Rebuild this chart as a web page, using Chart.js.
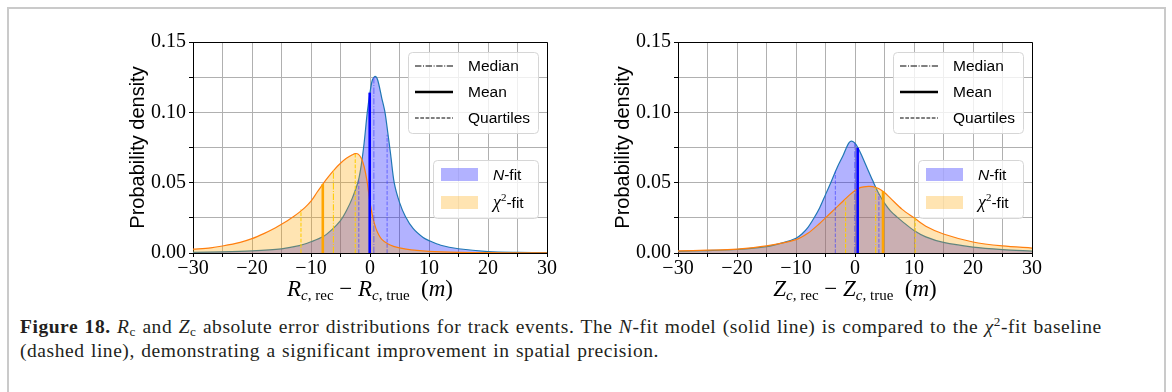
<!DOCTYPE html>
<html>
<head>
<meta charset="utf-8">
<script src="https://cdn.jsdelivr.net/npm/chart.js@4.4.0/dist/chart.umd.min.js"></script>
<style>
  html, body { margin: 0; padding: 0; background: #fff; }
  body { width: 1172px; height: 392px; position: relative; overflow: hidden; }
  #frame { position: absolute; left: 7px; top: 7px; width: 1159px; height: 420px; border: 2px solid #cacaca; box-sizing: border-box; }
  .plot { position: absolute; top: 20px; width: 470px; height: 290px; }
  #caption { position: absolute; left: 20px; top: 315px; white-space: nowrap; font-family: "Liberation Serif", serif; font-size: 19.5px; letter-spacing: 0.55px; word-spacing: 1px; line-height: 24px; color: #231f20; }
  #caption sub, #caption sup { font-size: 0.68em; line-height: 0; }
  #caption sub { vertical-align: -0.2em; }
  #caption sup { vertical-align: 0.5em; }
</style>
</head>
<body>
<div id="frame"></div>
<canvas id="chartR" class="plot" width="470" height="290" style="left:100px"></canvas>
<canvas id="chartZ" class="plot" width="470" height="290" style="left:585px"></canvas>
<div id="caption"><b>Figure 18.</b> <i>R</i><sub>c</sub> and <i>Z</i><sub>c</sub> absolute error distributions for track events. The <i>N</i>-fit model (solid line) is compared to the <i>χ</i><sup>2</sup>-fit baseline<br>(dashed line), demonstrating a significant improvement in spatial precision.</div>
<script>
// axis ranges and labelled ticks
const xRange = [-30, 30];
const yRange = [0, 0.15];
const xLabelTicks = [-30, -20, -10, 0, 10, 20, 30];
const yLabelTicks = [0, 0.05, 0.1, 0.15];

// R_c panel - N-fit density
const rNfitX = [-30, -25, -20, -15, -12, -10, -8, -6.5, -5, -4, -3, -2, -1.5, -1, -0.46, 0, 0.4, 0.85, 1.3, 2, 2.54, 3, 3.5, 4.1, 5, 6, 7.3, 9, 10, 12, 15, 20, 25, 30];
const rNfitY = [0.0005, 0.0008, 0.0015, 0.003, 0.0052, 0.008, 0.0115, 0.0164, 0.023, 0.03, 0.039, 0.051, 0.062, 0.078, 0.1, 0.114, 0.123, 0.1255, 0.123, 0.11, 0.1, 0.086, 0.07, 0.05, 0.036, 0.026, 0.0175, 0.011, 0.0088, 0.0055, 0.003, 0.001, 0.0004, 0.0002];
// R_c panel - chi2-fit density
const rChiX = [-30, -27, -25, -22, -20, -18, -16, -15, -14, -13, -12, -11, -10, -9, -8, -7, -6, -5, -4, -3, -2.5, -2, -1.5, -1, -0.5, 0, 0.5, 1, 1.5, 2, 3, 4, 5, 7, 10, 15, 20, 25, 30];
const rChiY = [0.0027, 0.0037, 0.0050, 0.0076, 0.0102, 0.0138, 0.0180, 0.0204, 0.0230, 0.0258, 0.0289, 0.0324, 0.0368, 0.043, 0.049, 0.0545, 0.0595, 0.0638, 0.0673, 0.0698, 0.0707, 0.0703, 0.0675, 0.0615, 0.051, 0.036, 0.025, 0.0175, 0.0128, 0.0097, 0.0065, 0.0047, 0.0036, 0.0022, 0.0012, 0.0005, 0.0002, 0.0001, 0.0001];
// marker lines, order: lower quartile, median, mean, upper quartile
const rNfitMarkX = [-1.9, 0.65, -0.05, 2.9];
const rNfitMarkTop = [0.052, 0.125, 0.114, 0.084];
const rChiMarkX = [-11.7, -6.2, -8.0, -2.5];
const rChiMarkTop = [0.031, 0.059, 0.049, 0.0705];

// Z_c panel - N-fit density
const zNfitX = [-30, -25, -20, -15, -12, -10, -9, -8, -7, -6, -5, -4, -3, -2, -1.5, -1, -0.56, 0, 0.5, 1, 2, 3, 4, 5, 6, 7, 8, 10, 12, 15, 20, 25, 30];
const zNfitY = [0.0012, 0.0017, 0.0025, 0.0045, 0.0075, 0.0105, 0.0135, 0.018, 0.0245, 0.032, 0.0415, 0.051, 0.061, 0.0695, 0.0745, 0.0785, 0.0795, 0.078, 0.0748, 0.0705, 0.061, 0.0515, 0.0425, 0.0355, 0.03, 0.026, 0.0225, 0.016, 0.0115, 0.0075, 0.0042, 0.0024, 0.0013];
// Z_c panel - chi2-fit density
const zChiX = [-30, -25, -20, -15, -10, -8, -6, -5, -4, -3, -2, -1, 0, 1, 2.26, 3, 4, 5, 6, 8, 10, 12, 15, 20, 25, 30];
const zChiY = [0.0015, 0.002, 0.0028, 0.005, 0.0095, 0.014, 0.021, 0.025, 0.029, 0.033, 0.037, 0.041, 0.0445, 0.0467, 0.0474, 0.0472, 0.0458, 0.043, 0.039, 0.031, 0.025, 0.019, 0.0135, 0.0078, 0.005, 0.0035];
const zNfitMarkX = [-3.33, -0.05, 0.45, 4.05];
const zNfitMarkTop = [0.058, 0.078, 0.0748, 0.042];
const zChiMarkX = [-1.6, 3.5, 4.75, 10.2];
const zChiMarkTop = [0.038, 0.0465, 0.044, 0.025];

const SERIF = '"Liberation Serif", "DejaVu Serif", serif';
const SANS = '"Liberation Sans", Arial, sans-serif';
const DASHED = [3.7, 1.6];
const DASHDOT = [6.4, 1.6, 1, 1.6];

function toPts(xs, ys) {
    return xs.map((x, i) => ({ x: x, y: ys[i] }));
}

// vertical lines for quartiles / median / mean
function markLines(xs, tops, thin, thick) {
    return xs.map((x, i) => ({
        data: [{ x: x, y: 0 }, { x: x, y: tops[i] }],
        borderColor: i === 2 ? thick : thin,
        borderWidth: i === 2 ? 2.6 : 1.1,
        borderDash: i === 1 ? DASHDOT : (i === 2 ? [] : DASHED),
        tension: 0,
        fill: false,
        order: 0
    }));
}

function mathLabel(ctx, parts, cx, base) {
    let w = 0;
    parts.forEach(p => { ctx.font = p.f; p.w = ctx.measureText(p.t).width; w += p.w; });
    let x = cx - w / 2;
    ctx.textAlign = 'left';
    ctx.textBaseline = 'alphabetic';
    parts.forEach(p => { ctx.font = p.f; ctx.fillText(p.t, x, base + (p.dy || 0)); x += p.w; });
}

function mathLabelLeft(ctx, parts, x, base) {
    ctx.textAlign = 'left';
    ctx.textBaseline = 'alphabetic';
    parts.forEach(p => { ctx.font = p.f; ctx.fillText(p.t, x, base + (p.dy || 0)); x += ctx.measureText(p.t).width; });
}

function roundRect(ctx, x, y, w, h, r) {
    ctx.beginPath();
    ctx.moveTo(x + r, y);
    ctx.arcTo(x + w, y, x + w, y + h, r);
    ctx.arcTo(x + w, y + h, x, y + h, r);
    ctx.arcTo(x, y + h, x, y, r);
    ctx.arcTo(x, y, x + w, y, r);
    ctx.closePath();
    ctx.fillStyle = 'rgba(255,255,255,0.8)';
    ctx.fill();
    ctx.strokeStyle = '#d6d6d6';
    ctx.lineWidth = 1;
    ctx.stroke();
}

// frame, axis titles and the two legends
const decor = {
    id: 'decor',
    afterDraw(chart, args, opts) {
        const ctx = chart.ctx, ca = chart.chartArea;
        ctx.save();
        ctx.strokeStyle = '#000';
        ctx.lineWidth = 1;
        ctx.beginPath();
        ctx.moveTo(Math.round(ca.left), Math.round(ca.top) + 0.5);
        ctx.lineTo(Math.round(ca.right) + 0.5, Math.round(ca.top) + 0.5);
        ctx.lineTo(Math.round(ca.right) + 0.5, Math.round(ca.bottom));
        ctx.stroke();

        // y title
        ctx.fillStyle = '#000';
        ctx.save();
        ctx.translate(38, (ca.top + ca.bottom) / 2);
        ctx.rotate(-Math.PI / 2);
        ctx.font = '20px ' + SANS;
        ctx.textAlign = 'center';
        ctx.textBaseline = 'middle';
        ctx.fillText('Probability density', 0, 0);
        ctx.restore();

        // x title
        const v = opts.sym;
        const bigI = 'italic 23px ' + SERIF, up = '23px ' + SERIF;
        const subI = 'italic 15px ' + SERIF, sub = '15px ' + SERIF;
        mathLabel(ctx, [
            { t: v, f: bigI }, { t: 'c', f: subI, dy: 4 }, { t: ', rec', f: sub, dy: 4 },
            { t: ' \u2212 ', f: up },
            { t: v, f: bigI }, { t: 'c', f: subI, dy: 4 }, { t: ', true', f: sub, dy: 4 },
            { t: '  (', f: up }, { t: 'm', f: bigI }, { t: ')', f: up }
        ], (ca.left + ca.right) / 2, ca.bottom + 43);

        // statistics legend
        const L = ca.left, T = ca.top;
        roundRect(ctx, L + 215.5, T + 10.5, 130, 81, 4);
        const rows = [['Median', DASHDOT, 1.1], ['Mean', [], 2.6], ['Quartiles', DASHED, 1.1]];
        rows.forEach((r, i) => {
            const y = T + 24 + i * 26;
            ctx.strokeStyle = '#000';
            ctx.lineWidth = r[2];
            ctx.setLineDash(r[1]);
            ctx.beginPath();
            ctx.moveTo(L + 222, y);
            ctx.lineTo(L + 260, y);
            ctx.stroke();
            ctx.setLineDash([]);
            ctx.font = '15.5px ' + SANS;
            ctx.textAlign = 'left';
            ctx.textBaseline = 'middle';
            ctx.fillStyle = '#000';
            ctx.fillText(r[0], L + 275, y + 1);
        });

        // model legend
        roundRect(ctx, L + 240.5, T + 118.5, 105, 58, 4);
        ctx.fillStyle = 'rgba(0,0,255,0.3)';
        ctx.fillRect(L + 248, T + 126, 37, 13);
        ctx.fillStyle = 'rgba(255,165,0,0.3)';
        ctx.fillRect(L + 248, T + 154, 37, 13);
        ctx.fillStyle = '#000';
        mathLabelLeft(ctx, [{ t: 'N', f: 'italic 15.5px ' + SANS }, { t: '-fit', f: '15.5px ' + SANS }], L + 300, T + 138);
        mathLabelLeft(ctx, [{ t: '\u03c7', f: 'italic 18px ' + SERIF }, { t: '2', f: '11px ' + SERIF, dy: -7 }, { t: '-fit', f: '15.5px ' + SANS }], L + 300, T + 166);
        ctx.restore();
    }
};

function fmtX(v) {
    return v < 0 ? '\u2212' + Math.abs(v) : String(v);
}

function makeChart(id, sym, nX, nY, cX, cY, nMX, nMT, cMX, cMT) {
    const datasets = [
        { data: toPts(cX, cY), borderColor: '#ff7f0e', borderWidth: 1.2, backgroundColor: 'rgba(255,165,0,0.3)', fill: 'origin', order: 1 },
        { data: toPts(nX, nY), borderColor: '#1f77b4', borderWidth: 1.2, backgroundColor: 'rgba(0,0,255,0.3)', fill: 'origin', order: 2 }
    ].concat(
        markLines(nMX, nMT, 'rgba(60,60,255,0.6)', '#0000ff'),
        markLines(cMX, cMT, 'rgba(255,204,0,0.95)', '#ffa500')
    );

    return new Chart(document.getElementById(id).getContext('2d'), {
        type: 'line',
        data: { datasets: datasets },
        options: {
            responsive: false,
            animation: false,
            devicePixelRatio: 1,
            layout: { padding: { left: 0, right: 23, top: 22, bottom: 0 } },
            elements: {
                point: { radius: 0, hoverRadius: 0 },
                line: { tension: 0.3 }
            },
            plugins: {
                legend: { display: false },
                tooltip: { enabled: false },
                decor: { sym: sym }
            },
            scales: {
                x: {
                    type: 'linear',
                    min: xRange[0],
                    max: xRange[1],
                    afterFit(s) { s.height = 57; },
                    border: { color: '#000', width: 1 },
                    grid: { color: '#b0b0b0', lineWidth: 1, tickLength: 4, tickColor: '#000' },
                    ticks: {
                        stepSize: 5,
                        autoSkip: false,
                        maxRotation: 0,
                        padding: 0,
                        color: '#000',
                        font: { family: SERIF, size: 20 },
                        callback: v => xLabelTicks.includes(v) ? fmtX(v) : ''
                    }
                },
                y: {
                    min: yRange[0],
                    max: yRange[1],
                    afterFit(s) { s.width = 93; },
                    border: { color: '#000', width: 1 },
                    grid: { color: '#b0b0b0', lineWidth: 1, tickLength: 4, tickColor: '#000' },
                    ticks: {
                        stepSize: 0.025,
                        autoSkip: false,
                        padding: 3,
                        color: '#000',
                        font: { family: SERIF, size: 20 },
                        callback: v => yLabelTicks.some(t => Math.abs(t - v) < 1e-9) ? v.toFixed(2) : ''
                    }
                }
            }
        },
        plugins: [decor]
    });
}

makeChart('chartR', 'R', rNfitX, rNfitY, rChiX, rChiY, rNfitMarkX, rNfitMarkTop, rChiMarkX, rChiMarkTop);
makeChart('chartZ', 'Z', zNfitX, zNfitY, zChiX, zChiY, zNfitMarkX, zNfitMarkTop, zChiMarkX, zChiMarkTop);
</script>
</body>
</html>
